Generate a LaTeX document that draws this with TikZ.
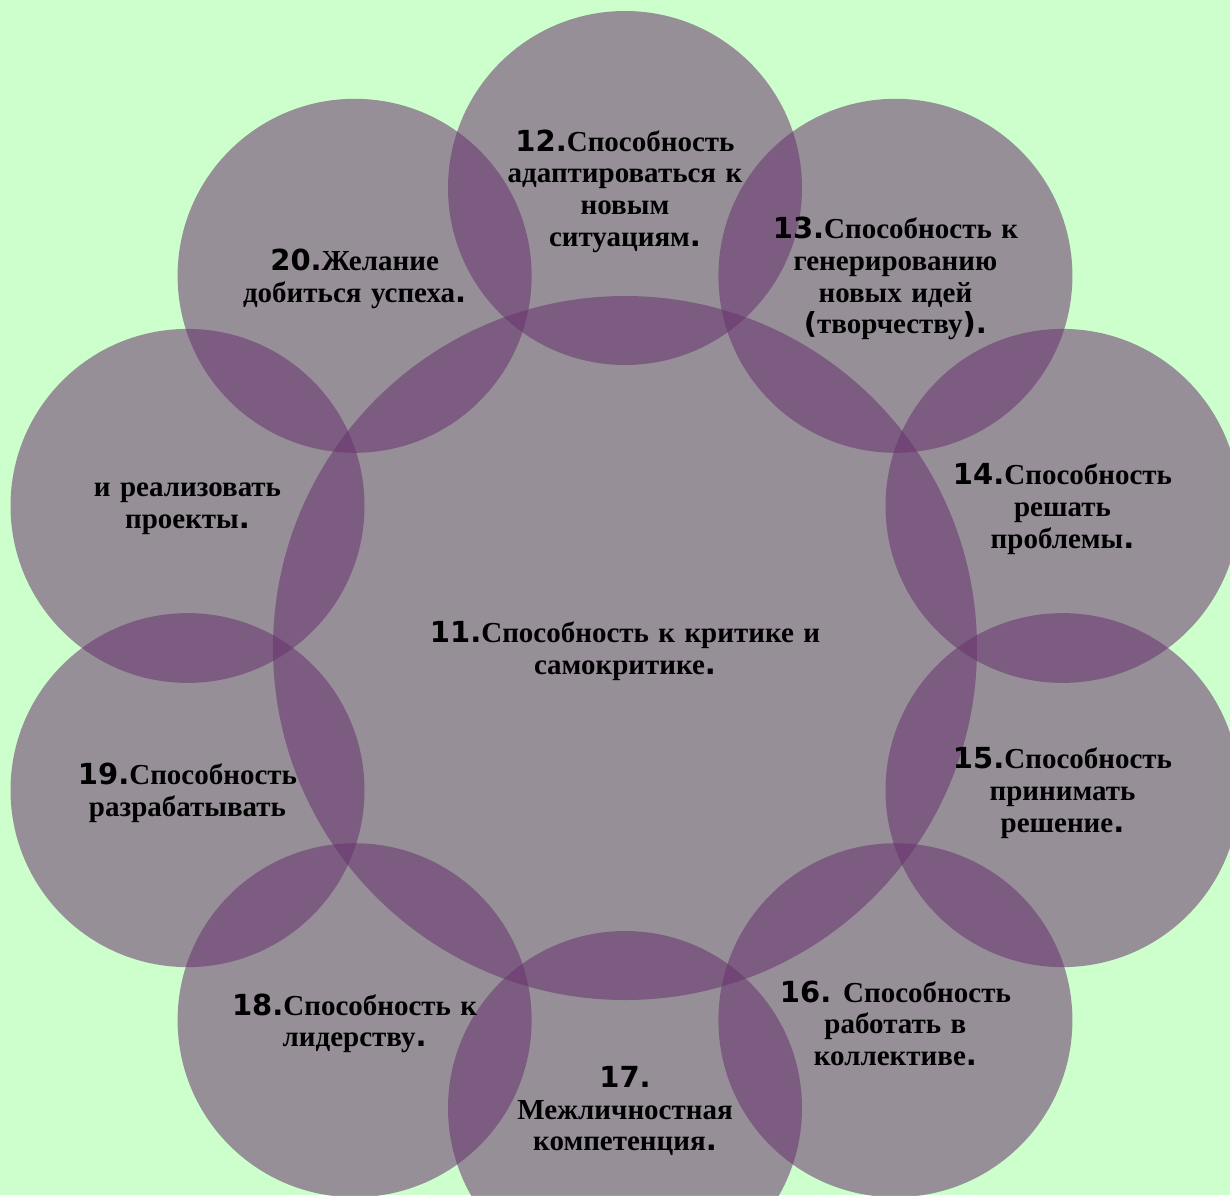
\documentclass[tikz,border=0pt]{standalone}
\usepackage{fontspec}
\setmainfont{Liberation Serif}[WordSpace=1.3]
\newfontfamily\numf{DejaVu Sans}
\newcommand\nm[1]{{\numf\bfseries #1}}
\definecolor{bgc}{RGB}{204,255,204}
\definecolor{circc}{RGB}{106,51,111}
\tikzset{
  ring/.style={circle, inner sep=0pt, minimum size=177pt, fill=circc, fill opacity=0.55, draw=none},
  bigring/.style={ring, minimum size=352pt},
  lbl/.style={align=center, font=\fontsize{14.5}{15.85}\selectfont\bfseries, text=black, inner sep=0pt, text opacity=1, yshift=-1.5pt},
}
\begin{document}
\begin{tikzpicture}[x=0.5pt,y=-0.5pt]
  \useasboundingbox (0,0) rectangle (1230,1195);
  \fill[bgc] (0,0) rectangle (1230,1195);
  \clip (0,0) rectangle (1230,1195);
  % circles
  \node[bigring] (c11) at (625,648) {};
  \node[ring] (c12) at (625,188) {};
  \node[ring] (c13) at (895.4,275.8) {};
  \node[ring] (c14) at (1062.5,505.9) {};
  \node[ring] (c15) at (1062.5,790.1) {};
  \node[ring] (c16) at (895.4,1020.2) {};
  \node[ring] (c17) at (625,1108) {};
  \node[ring] (c18) at (354.6,1020.2) {};
  \node[ring] (c19) at (187.5,790.1) {};
  \node[ring] (cA) at (187.5,505.9) {};
  \node[ring] (c20) at (354.6,275.8) {};
  % texts
  \node[lbl] (t11) at (c11.center) {\nm{11.}Способность к критике и\\самокритике\nm{.}};
  \node[lbl] (t12) at (c12.center) {\nm{12.}Способность\\адаптироваться к\\новым\\ситуациям\nm{.}};
  \node[lbl] (t13) at (c13.center) {\nm{13.}Способность к\\генерированию\\новых идей\\\nm{(}творчеству\nm{).}};
  \node[lbl] (t14) at (c14.center) {\nm{14.}Способность\\решать\\проблемы\nm{.}};
  \node[lbl] (t15) at (c15.center) {\nm{15.}Способность\\принимать\\решение\nm{.}};
  \node[lbl] (t16) at (c16.center) {\nm{16.} Способность\\работать в\\коллективе\nm{.}};
  \node[lbl] (t17) at (c17.center) {\nm{17.}\\Межличностная\\компетенция\nm{.}};
  \node[lbl] (t18) at (c18.center) {\nm{18.}Способность к\\лидерству\nm{.}};
  \node[lbl] (t19) at (c19.center) {\nm{19.}Способность\\разрабатывать};
  \node[lbl] (tA) at (cA.center) {и реализовать\\проекты\nm{.}};
  \node[lbl] (t20) at (c20.center) {\nm{20.}Желание\\добиться успеха\nm{.}};
\end{tikzpicture}
\end{document}
